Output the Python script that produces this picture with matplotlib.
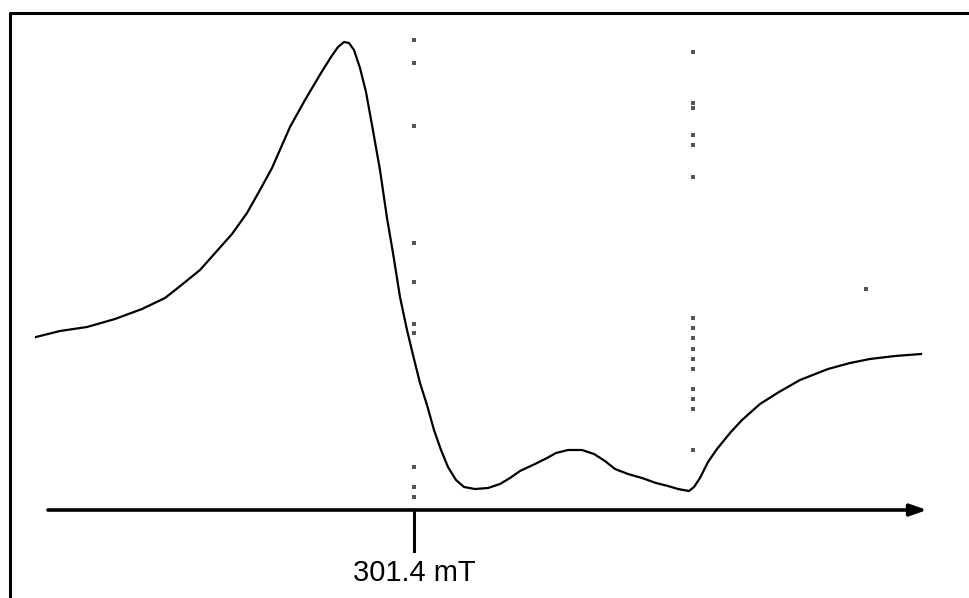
"""EPR-style derivative spectrum with the 301.4 mT reference mark."""

import matplotlib.pyplot as plt
from matplotlib.lines import Line2D

# spectrum (field position in a.u., signal height above the baseline in a.u.)
field = [36, 60, 87, 115, 142, 165, 179, 200, 216, 232, 247, 260, 272, 290, 305,
         321, 331, 338, 344, 349, 354, 360, 366, 372, 380, 387, 393, 400, 407, 413,
         420, 427, 434, 441, 448, 456, 464, 475, 488, 500, 510, 520, 535, 547, 556,
         568, 582, 594, 605, 615, 628, 642, 656, 668, 678, 689, 694, 700, 708,
         717, 730, 742, 760, 779, 800, 828, 850, 870, 895, 921]
signal = [173, 179, 183, 191, 201, 212, 223, 240, 258, 276, 297, 320, 342, 383, 410,
          437, 453, 463, 468, 467, 460, 442, 418, 385, 340, 292, 257, 213, 180, 155,
          127, 105, 80, 60, 43, 30, 23, 21, 22, 26, 32, 39, 46, 52, 57,
          60, 60, 56, 49, 41, 36, 32, 27, 24, 21, 19, 23, 32, 48,
          61, 77, 90, 106, 118, 130, 141, 147, 151, 154, 156]

# faint dotted guide lines
ref_field = 414
ref_label = "301.4 mT"
guide_left = [470, 447, 384, 267, 228, 186, 177, 43, 23, 13]
guide_right_field = 693
guide_right = [458, 407, 402, 375, 365, 333, 192, 182, 172, 161, 151, 141, 121, 111, 101, 60]
stray_dot = (866, 221)

axis_start, axis_end = 48, 927

fig = plt.figure(figsize=(9.69, 5.98), dpi=100)
ax = fig.add_axes([0, 0, 1, 1])
ax.set_xlim(0, 969)
ax.set_ylim(-88, 510)
ax.set_axis_off()

# frame (only top and left edges visible)
fig.add_artist(Line2D([10 / 969, 10 / 969, 1.0], [0.0, 1 - 13 / 598, 1 - 13 / 598],
                      color="black", lw=2.2, transform=fig.transFigure))

# guide dots
ax.scatter([ref_field] * len(guide_left), guide_left, s=5, marker="s",
           color="#555555", lw=0)
ax.scatter([guide_right_field] * len(guide_right), guide_right, s=5, marker="s",
           color="#555555", lw=0)
ax.scatter([stray_dot[0]], [stray_dot[1]], s=5, marker="s", color="#555555", lw=0)

# spectrum
ax.plot(field, signal, color="black", lw=1.6, solid_joinstyle="round")

# field axis with arrow
ax.annotate("", xy=(axis_end, 0), xytext=(axis_start, 0),
            arrowprops=dict(arrowstyle="-|>,head_length=1.0,head_width=0.35",
                            color="black", lw=2.6, shrinkA=0, shrinkB=0))

# reference tick and label
ax.plot([ref_field, ref_field], [0, -41], color="black", lw=2.2)
ax.text(ref_field, -63, ref_label, ha="center", va="center",
        fontsize=21, family="Liberation Sans")

plt.savefig("out.png", dpi=100)
